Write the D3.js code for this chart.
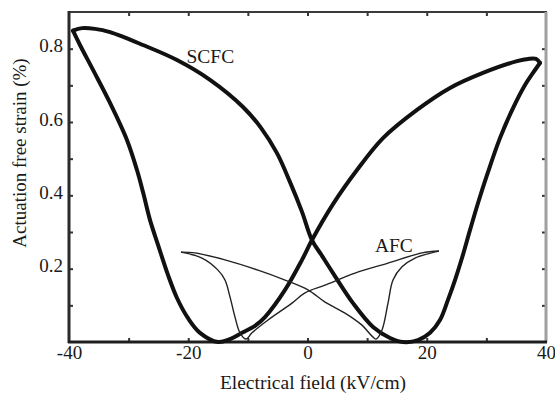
<!DOCTYPE html>
<html>
<head>
<meta charset="utf-8">
<script src="https://cdn.jsdelivr.net/npm/d3@7"></script>
<style>
  body { margin: 0; background: #fff; }
  svg { display: block; }
  text { font-family: "Liberation Serif", "Times New Roman", serif; fill: #1a1a1a; }
</style>
</head>
<body>
<div id="chart"></div>
<script>
// SCFC butterfly loop, two branches meeting at the sharp tips (field kV/cm, strain %)
var scfcBranch1 = [
  [-39.33, 0.849], [-37.82, 0.856], [-35.64, 0.854], [-33.12, 0.845], [-27.59, 0.810],
  [-21.89, 0.769], [-16.35, 0.715], [-10.82, 0.641], [-7.80, 0.584], [-5.12, 0.515],
  [-2.93, 0.436], [-0.92, 0.355], [0.75, 0.278], [2.43, 0.235], [4.28, 0.188],
  [7.63, 0.106], [10.99, 0.041], [13.84, 0.011], [16.02, 0.000], [18.53, 0.005],
  [20.55, 0.025], [22.22, 0.060], [23.56, 0.115], [24.74, 0.169], [25.91, 0.229],
  [27.25, 0.305], [28.60, 0.379], [30.10, 0.455], [32.28, 0.556], [34.47, 0.638],
  [36.48, 0.701], [37.82, 0.734], [38.99, 0.761]
];
var scfcBranch2 = [
  [38.99, 0.761], [38.32, 0.772], [36.98, 0.772], [35.14, 0.766], [29.43, 0.734],
  [23.90, 0.693], [18.36, 0.633], [12.66, 0.556], [8.30, 0.469], [4.28, 0.376],
  [0.75, 0.278], [-0.92, 0.224], [-3.77, 0.142], [-7.13, 0.068], [-8.81, 0.044],
  [-10.99, 0.025], [-13.00, 0.008], [-15.01, 0.000], [-18.03, 0.025], [-20.04, 0.065],
  [-21.89, 0.120], [-23.40, 0.183], [-25.07, 0.265], [-26.42, 0.333], [-27.59, 0.409],
  [-28.60, 0.469], [-30.28, 0.551], [-33.12, 0.652], [-35.97, 0.742], [-38.16, 0.810],
  [-39.33, 0.849]
];
// AFC butterfly loop
var afcBranch1 = [
  [-21.22, 0.245], [-18.87, 0.243], [-13.84, 0.224], [-8.30, 0.196], [-3.77, 0.169],
  [0.08, 0.142], [2.94, 0.109], [6.29, 0.079], [9.14, 0.046], [10.82, 0.016],
  [11.49, 0.008], [12.50, 0.033], [13.50, 0.106], [14.34, 0.169], [15.85, 0.205],
  [18.03, 0.229], [22.05, 0.248]
];
var afcBranch2 = [
  [22.05, 0.248], [19.20, 0.243], [13.50, 0.215], [7.97, 0.188], [2.94, 0.155],
  [-0.42, 0.134], [-2.60, 0.106], [-6.62, 0.060], [-9.31, 0.025], [-10.31, 0.008],
  [-11.32, 0.025], [-12.16, 0.068], [-13.00, 0.123], [-13.84, 0.169], [-15.01, 0.196],
  [-17.69, 0.229], [-21.22, 0.245]
];

var xTicks = [-30, -20, -10, 0, 10, 20, 30];
var xLabels = [-40, -20, 0, 20, 40];
var yTicks = [0.1, 0.2, 0.3, 0.4, 0.5, 0.6, 0.7, 0.8];
var yLabels = [0.2, 0.4, 0.6, 0.8];

var width = 555, height = 394;
var plotLeft = 69, plotRight = 546, plotTop = 12, plotBottom = 342;

var svg = d3.select("#chart").append("svg")
  .attr("width", width)
  .attr("height", height);

var xScale = d3.scaleLinear().domain([-40, 40]).range([plotLeft, plotRight]);
var yScale = d3.scaleLinear().domain([0, 0.9]).range([plotBottom, plotTop]);

// ticks (inward on all four sides)
function tidy(g) {
  g.select(".domain").remove();
  g.selectAll(".tick line").attr("stroke", "#333").attr("stroke-width", 2);
  g.selectAll(".tick text").style("font-size", "19px").attr("fill", "#1a1a1a");
}

svg.append("g")
  .attr("transform", "translate(0," + plotBottom + ")")
  .call(d3.axisBottom(xScale).tickValues(xTicks).tickSize(-4).tickFormat(""))
  .call(tidy);
svg.append("g")
  .attr("transform", "translate(0," + plotBottom + ")")
  .call(d3.axisBottom(xScale).tickValues(xLabels).tickSize(0).tickPadding(3)
    .tickFormat(function(d) { return String(d); }))
  .call(tidy);
svg.append("g")
  .attr("transform", "translate(0," + plotTop + ")")
  .call(d3.axisTop(xScale).tickValues(xTicks).tickSize(-4).tickFormat(""))
  .call(tidy);

svg.append("g")
  .attr("transform", "translate(" + plotLeft + ",0)")
  .call(d3.axisLeft(yScale).tickValues(yTicks).tickSize(-4).tickPadding(6)
    .tickFormat(function(d) { return yLabels.indexOf(d) >= 0 ? d3.format(".1f")(d) : ""; }))
  .call(tidy)
  .selectAll(".tick text").attr("dy", "0.16em");
svg.append("g")
  .attr("transform", "translate(" + plotRight + ",0)")
  .call(d3.axisRight(yScale).tickValues(yTicks).tickSize(-4).tickFormat(""))
  .call(tidy);

// frame
svg.append("line").attr("x1", plotLeft - 1).attr("x2", plotRight + 1).attr("y1", plotTop).attr("y2", plotTop)
  .attr("stroke", "#3a3a3a").attr("stroke-width", 2);
svg.append("line").attr("x1", plotRight).attr("x2", plotRight).attr("y1", plotTop).attr("y2", plotBottom)
  .attr("stroke", "#a0a0a0").attr("stroke-width", 3);
svg.append("line").attr("x1", plotLeft).attr("x2", plotLeft).attr("y1", plotTop - 1).attr("y2", plotBottom + 1)
  .attr("stroke", "#2a2a2a").attr("stroke-width", 3);
svg.append("line").attr("x1", plotLeft - 1).attr("x2", plotRight + 1).attr("y1", plotBottom).attr("y2", plotBottom)
  .attr("stroke", "#1e1e1e").attr("stroke-width", 3);

// curves
var line = d3.line()
  .x(function(d) { return xScale(d[0]); })
  .y(function(d) { return yScale(d[1]); })
  .curve(d3.curveCatmullRom.alpha(0.5));

[scfcBranch1, scfcBranch2].forEach(function(b) {
  svg.append("path").datum(b)
    .attr("d", line)
    .attr("fill", "none")
    .attr("stroke", "#111")
    .attr("stroke-width", 4)
    .attr("stroke-linejoin", "round")
    .attr("stroke-linecap", "round");
});
[afcBranch1, afcBranch2].forEach(function(b) {
  svg.append("path").datum(b)
    .attr("d", line)
    .attr("fill", "none")
    .attr("stroke", "#222")
    .attr("stroke-width", 1.4)
    .attr("stroke-linejoin", "round");
});

// curve labels
svg.append("text").attr("x", xScale(-20.3)).attr("y", yScale(0.762))
  .style("font-size", "19.5px").text("SCFC");
svg.append("text").attr("x", xScale(11.3)).attr("y", yScale(0.245))
  .style("font-size", "19.5px").text("AFC");

// axis titles
svg.append("text")
  .attr("x", 313).attr("y", 389)
  .attr("text-anchor", "middle")
  .style("font-size", "19.5px")
  .text("Electrical field (kV/cm)");
svg.append("text")
  .attr("transform", "translate(26,153) rotate(-90)")
  .attr("text-anchor", "middle")
  .style("font-size", "19px")
  .text("Actuation free strain (%)");
</script>
</body>
</html>
